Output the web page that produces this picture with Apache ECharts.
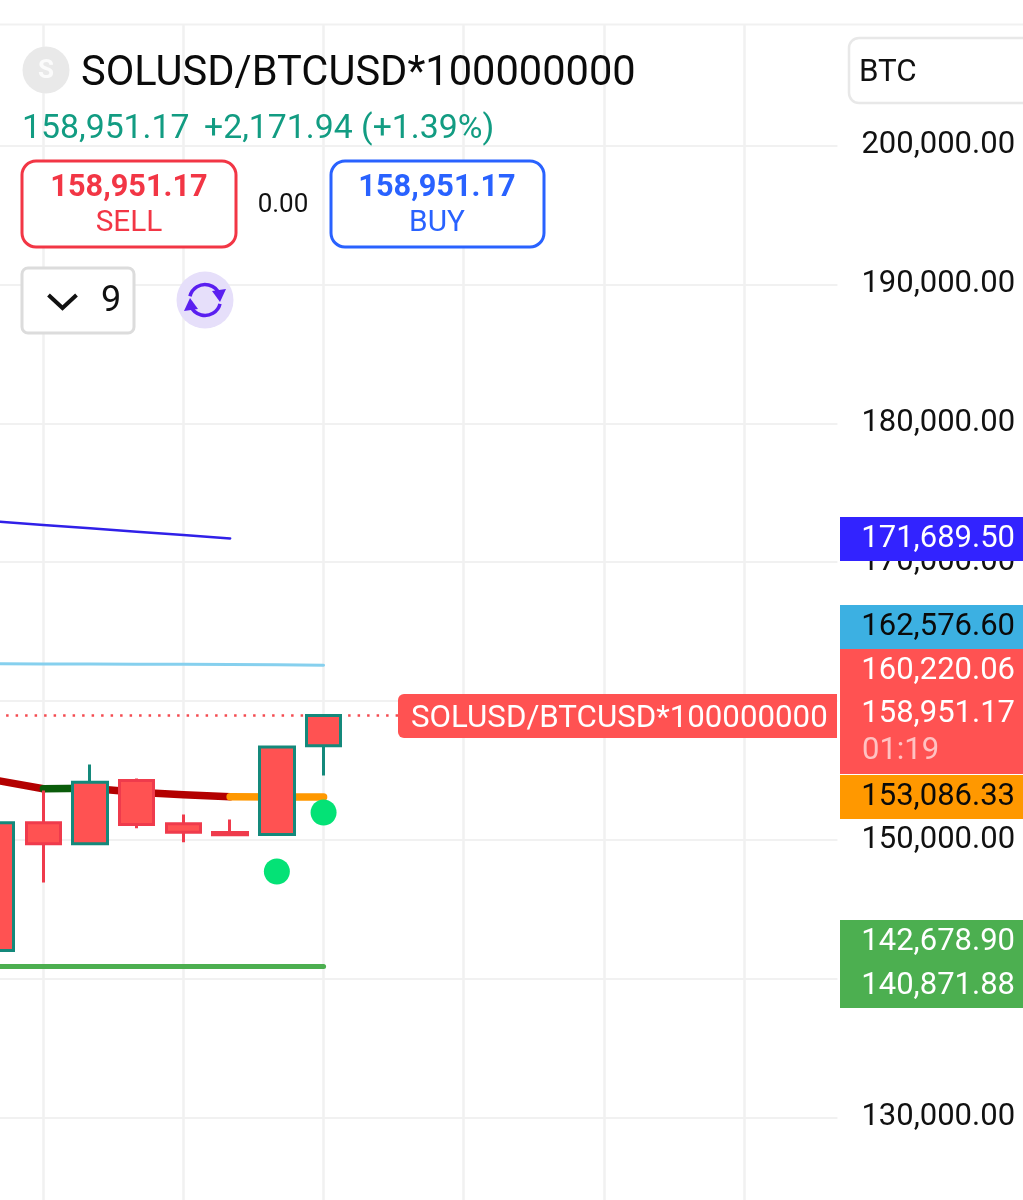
<!DOCTYPE html>
<html><head><meta charset="utf-8">
<style>html,body{margin:0;padding:0;background:#fff;overflow:hidden}#c{width:1023px;height:1200px}</style>
<script src="https://cdn.jsdelivr.net/npm/echarts@6/dist/echarts.min.js"></script>
</head><body><div id="c"></div>
<script>
const categories = ['c1','c2','c3','c4','c5','c6','c7','c8','c9','c10','c11','c12','c13','c14','c15','c16','c17','c18','c19'];
const opens  = [151223,149710,149710,151100,150545,150358,150380,156779];
const closes = [142020,151223,154149,154272,151151,150524,156672,158951.17];
const lows   = [142020,146920,149710,150834,149825,150358,150380,154632];
const highs  = [151223,153551,155425,154416,151821,151461,156672,158951.17];
const borders= ['teal','red','teal','red','red','red','teal','teal'];
const blueLine  = [172916,172671,172433,172188,171943,171698];
const skyLine   = [162670,162665,162660,162650,162640,162620,162600,162576.6];
const maRed1    = [154272,153673];
const maGreen   = [null,153673,153717];
const maRed2    = [null,null,153717,153428,153241,153097];
const maOrange  = [null,null,null,null,null,153097,153080,153086.33];
const supportLine = [140871.88,140871.88,140871.88,140871.88,140871.88,140871.88,140871.88,140871.88];
const dots = [[6,147714],[7,151966]];
const lastPrice = 158951.17;
const yTicks = [200000,190000,180000,170000,150000,130000];

const FONT='Roboto';
const tealC='#14897b', redC='#ef3b4c';
const fmt=v=>v.toLocaleString('en-US',{minimumFractionDigits:2,maximumFractionDigits:2});
const txt=(x,y,t,size,fill,o={})=>({type:'text',z:100,x,y,style:{text:t,fontFamily:FONT,fontSize:size,fill,textVerticalAlign:'middle',textAlign:o.align||'left',fontWeight:o.weight||'normal',opacity:o.opacity==null?1:o.opacity}});
const box=(x,y,w,h,r,fill,stroke,lw)=>({type:'rect',z:100,shape:{x,y,width:w,height:h,r},style:{fill,stroke:stroke||null,lineWidth:lw||0}});
const tagRight=1015;

const graphics=[
  {type:'rect',z:1,shape:{x:0,y:0,width:1023,height:24},style:{fill:'#fff'}},
  {type:'rect',z:1,shape:{x:0,y:23.5,width:1023,height:2},style:{fill:'#f1f1f1'}},
  {type:'circle',z:100,shape:{cx:46,cy:70,r:23.5},style:{fill:'#e9e9e9'}},
  txt(46,71,'S',26,'#fbfbfb',{align:'center',weight:'bold'}),
  txt(81,75,'SOLUSD/BTCUSD*100000000',41.6,'#0b0b0b'),
  txt(22,130,'158,951.17',33.8,'#129c82'),
  txt(204,130,'+2,171.94 (+1.39%)',33.8,'#129c82'),
  box(22,161,214,86,14,'#fff','#f23645',3),
  txt(129,188,'158,951.17',30.7,'#f23645',{align:'center',weight:'bold'}),
  txt(129,224,'SELL',29.8,'#f23645',{align:'center'}),
  txt(283,205,'0.00',26,'#111',{align:'center'}),
  box(331,161,213,86,14,'#fff','#2962ff',3),
  txt(437,188,'158,951.17',30.7,'#2962ff',{align:'center',weight:'bold'}),
  txt(437,224,'BUY',29.8,'#2962ff',{align:'center'}),
  box(22,268,112,65,6,'#fff','#dcdcdc',3),
  {type:'polyline',z:100,shape:{points:[[48.5,295],[62.5,308],[76.5,295]]},style:{fill:null,stroke:'#111',lineWidth:4}},
  txt(111,302,'9',36,'#111',{align:'center'}),
  {type:'circle',z:100,shape:{cx:205,cy:300,r:28.5},style:{fill:'#e6dffa'}},
  {type:'arc',z:100,shape:{cx:205,cy:300,r:15.5,startAngle:-2.9,endAngle:-0.35},style:{fill:null,stroke:'#5a1ff0',lineWidth:3.5}},
  {type:'arc',z:100,shape:{cx:205,cy:300,r:15.5,startAngle:0.25,endAngle:2.8},style:{fill:null,stroke:'#5a1ff0',lineWidth:3.5}},
  {type:'polygon',z:100,shape:{points:[[212,291],[226,289],[220,302]]},style:{fill:'#5a1ff0'}},
  {type:'polygon',z:100,shape:{points:[[198,309],[184,311],[190,298]]},style:{fill:'#5a1ff0'}},
  box(849,38,200,65,10,'#fff','#e8e8e8',2.5),
  txt(859,73,'BTC',31.3,'#111'),
  box(398,694,439,44,[6,0,0,6],'#ff5252'),
  txt(411,719,'SOLUSD/BTCUSD*100000000',31.25,'#fff'),
  box(840,517,183,44,0,'#3223ff'),
  txt(tagRight,539,'171,689.50',31,'#fff',{align:'right'}),
  box(840,605,183,44,0,'#3cb0e2'),
  txt(tagRight,627,'162,576.60',31,'#0a0a0a',{align:'right'}),
  box(840,649,183,125,0,'#ff5252'),
  txt(tagRight,671,'160,220.06',31,'#fff',{align:'right'}),
  txt(tagRight,714,'158,951.17',31,'#fff',{align:'right'}),
  txt(862,751,'01:19',31,'#fff',{opacity:.65}),
  box(840,775,183,44,0,'#ff9800'),
  txt(tagRight,797,'153,086.33',31,'#0a0a0a',{align:'right'}),
  box(840,920,183,88,0,'#4caf50'),
  txt(tagRight,942,'142,678.90',31,'#fff',{align:'right'}),
  txt(tagRight,986,'140,871.88',31,'#fff',{align:'right'})
];

const lineS=(data,color,width,z,cap)=>({type:'line',data,symbol:'none',z,silent:true,connectNulls:false,clip:false,
  lineStyle:{color,width,cap:cap||'round',join:'round'},animation:false});

const option={
  animation:false,
  backgroundColor:'#fff',
  grid:{left:-3.4,width:840.8,top:6.75,height:1249.5,outerBoundsMode:'none',containLabel:false},
  xAxis:{type:'category',data:categories,boundaryGap:false,
    axisLine:{show:false},axisTick:{show:false},axisLabel:{show:false},
    splitLine:{show:true,interval:(i)=>i%3===1,lineStyle:{color:'#f1f1f1',width:2.5}}},
  yAxis:{type:'value',position:'right',min:120000,max:210000,interval:10000,scale:true,
    axisLine:{show:false},axisTick:{show:false},
    splitLine:{show:true,lineStyle:{color:'#f1f1f1',width:2}},
    axisLabel:{margin:24,fontFamily:FONT,fontSize:31,color:'#111',padding:[0,0,6,0],
      formatter:v=>yTicks.includes(v)?fmt(v):''}},
  graphic:graphics,
  series:[
    lineS(blueLine,'#3020e8',2.5,3),
    lineS(skyLine,'#86d0ee',3,3),
    lineS(maRed1,'#b30000',7.5,3),
    lineS(maRed2,'#b30000',7.5,3),
    lineS(maGreen,'#0a5c0a',7.5,3),
    lineS(maOrange,'#ff9800',7.5,3),
    lineS(supportLine,'#4caf50',5,3),
    {type:'candlestick',z:5,barWidth:35,clip:false,silent:true,
      data:opens.map((o,i)=>({value:[o,closes[i],lows[i],highs[i]],itemStyle:{
        color:'#ff5252',color0:'#ff5252',
        borderColor:borders[i]==='teal'?tealC:redC,borderColor0:borders[i]==='teal'?tealC:redC,borderWidth:3}})),
      markLine:{silent:true,symbol:'none',animation:false,label:{show:false},
        lineStyle:{color:'#f44b50',type:[2.5,7],width:2.5},data:[{yAxis:lastPrice}]}},
    {type:'scatter',z:6,silent:true,data:dots,symbol:'circle',symbolSize:26,itemStyle:{color:'#04e276',opacity:1}}
  ]
};
const chart=echarts.init(document.getElementById('c'),null,{renderer:'canvas',width:1023,height:1200});
chart.setOption(option);
</script></body></html>
